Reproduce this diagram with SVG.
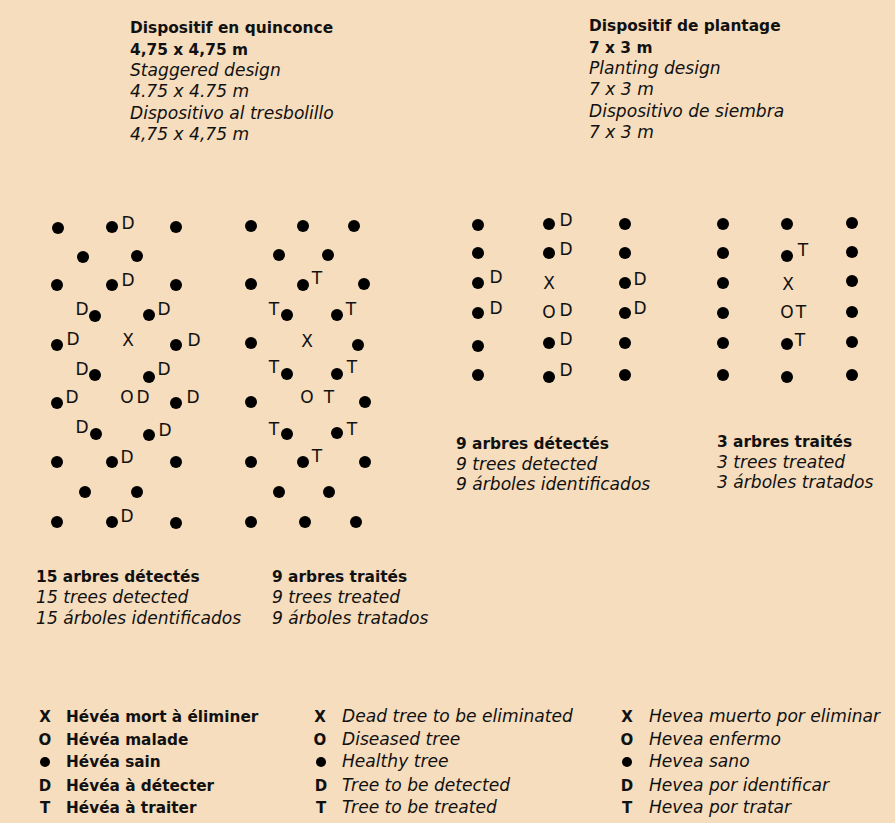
<svg xmlns="http://www.w3.org/2000/svg" width="895" height="823" viewBox="0 0 895 823">
<style>
text{font-family:"DejaVu Sans","Liberation Sans",sans-serif;fill:#111}
.b{font-weight:bold;font-size:15.4px}
.i{font-style:italic;font-size:17.1px}
.m{font-size:17px;text-anchor:middle}
.lb{font-weight:bold;font-size:15px;text-anchor:middle}
.lt{font-weight:bold;font-size:15.3px}
circle{fill:#000}
</style>
<rect width="895" height="823" fill="#F6DDBD"/>

<g id="header-left">
<text class="b" x="130" y="33">Dispositif en quinconce</text>
<text class="b" x="130" y="55">4,75 x 4,75 m</text>
<text class="i" x="130" y="76">Staggered design</text>
<text class="i" x="130" y="97">4.75 x 4.75 m</text>
<text class="i" x="130" y="119">Dispositivo al tresbolillo</text>
<text class="i" x="130" y="140">4,75 x 4,75 m</text>
</g>
<g id="header-right">
<text class="b" x="589" y="31">Dispositif de plantage</text>
<text class="b" x="589" y="53">7 x 3 m</text>
<text class="i" x="589" y="74">Planting design</text>
<text class="i" x="589" y="95">7 x 3 m</text>
<text class="i" x="589" y="117">Dispositivo de siembra</text>
<text class="i" x="589" y="138">7 x 3 m</text>
</g>

<g id="grid-quincunx-detected">
<circle cx="58" cy="228" r="6"/><circle cx="112" cy="227" r="6"/><circle cx="176" cy="227" r="6"/>
<circle cx="83" cy="257" r="6"/><circle cx="137" cy="256" r="6"/>
<circle cx="57" cy="285" r="6"/><circle cx="112" cy="285" r="6"/><circle cx="176" cy="285" r="6"/>
<circle cx="95" cy="316" r="6"/><circle cx="149" cy="315" r="6"/>
<circle cx="57" cy="345" r="6"/><circle cx="176" cy="345" r="6"/>
<circle cx="95" cy="375" r="6"/><circle cx="149" cy="377" r="6"/>
<circle cx="57" cy="403" r="6"/><circle cx="176" cy="403" r="6"/>
<circle cx="96" cy="434" r="6"/><circle cx="149" cy="435" r="6"/>
<circle cx="57" cy="462" r="6"/><circle cx="112" cy="462" r="6"/><circle cx="176" cy="462" r="6"/>
<circle cx="85" cy="492" r="6"/><circle cx="137" cy="492" r="6"/>
<circle cx="57" cy="522" r="6"/><circle cx="112" cy="522" r="6"/><circle cx="176" cy="523" r="6"/>
<text class="m" x="128" y="229">D</text>
<text class="m" x="128" y="286">D</text>
<text class="m" x="82" y="315">D</text>
<text class="m" x="164" y="315">D</text>
<text class="m" x="73" y="345">D</text>
<text class="m" x="128" y="346">X</text>
<text class="m" x="194" y="346">D</text>
<text class="m" x="82" y="375">D</text>
<text class="m" x="164" y="375">D</text>
<text class="m" x="72" y="403">D</text>
<text class="m" x="127" y="403">O</text>
<text class="m" x="143" y="403">D</text>
<text class="m" x="193" y="403">D</text>
<text class="m" x="82" y="433">D</text>
<text class="m" x="165" y="436">D</text>
<text class="m" x="127" y="463">D</text>
<text class="m" x="127" y="522">D</text>
</g>

<g id="grid-quincunx-treated">
<circle cx="251" cy="226" r="6"/><circle cx="303" cy="226" r="6"/><circle cx="354" cy="226" r="6"/>
<circle cx="279" cy="255" r="6"/><circle cx="328" cy="255" r="6"/>
<circle cx="251" cy="284" r="6"/><circle cx="303" cy="285" r="6"/><circle cx="364" cy="284" r="6"/>
<circle cx="287" cy="315" r="6"/><circle cx="337" cy="315" r="6"/>
<circle cx="251" cy="343" r="6"/><circle cx="358" cy="345" r="6"/>
<circle cx="287" cy="374" r="6"/><circle cx="337" cy="374" r="6"/>
<circle cx="251" cy="402" r="6"/><circle cx="365" cy="402" r="6"/>
<circle cx="287" cy="434" r="6"/><circle cx="337" cy="433" r="6"/>
<circle cx="251" cy="462" r="6"/><circle cx="303" cy="462" r="6"/><circle cx="365" cy="462" r="6"/>
<circle cx="279" cy="492" r="6"/><circle cx="329" cy="492" r="6"/>
<circle cx="251" cy="522" r="6"/><circle cx="305" cy="522" r="6"/><circle cx="356" cy="522" r="6"/>
<text class="m" x="317" y="284">T</text>
<text class="m" x="274" y="315">T</text>
<text class="m" x="351" y="315">T</text>
<text class="m" x="307" y="347">X</text>
<text class="m" x="274" y="373">T</text>
<text class="m" x="352" y="373">T</text>
<text class="m" x="307" y="403">O</text>
<text class="m" x="329" y="403">T</text>
<text class="m" x="274" y="435">T</text>
<text class="m" x="352" y="435">T</text>
<text class="m" x="317" y="462">T</text>
</g>

<g id="grid-planting-detected">
<circle cx="478" cy="225" r="6"/><circle cx="478" cy="253" r="6"/><circle cx="478" cy="283" r="6"/>
<circle cx="478" cy="313" r="6"/><circle cx="478" cy="346" r="6"/><circle cx="478" cy="375" r="6"/>
<circle cx="549" cy="224" r="6"/><circle cx="549" cy="253" r="6"/><circle cx="549" cy="343" r="6"/><circle cx="549" cy="377" r="6"/>
<circle cx="625" cy="224" r="6"/><circle cx="625" cy="253" r="6"/><circle cx="625" cy="283" r="6"/>
<circle cx="625" cy="313" r="6"/><circle cx="625" cy="343" r="6"/><circle cx="625" cy="375" r="6"/>
<text class="m" x="566" y="226">D</text>
<text class="m" x="566" y="255">D</text>
<text class="m" x="496" y="283">D</text>
<text class="m" x="549" y="289">X</text>
<text class="m" x="640" y="285">D</text>
<text class="m" x="496" y="314">D</text>
<text class="m" x="549" y="318">O</text>
<text class="m" x="566" y="316">D</text>
<text class="m" x="640" y="314">D</text>
<text class="m" x="566" y="345">D</text>
<text class="m" x="566" y="376">D</text>
</g>

<g id="grid-planting-treated">
<circle cx="723" cy="224" r="6"/><circle cx="723" cy="253" r="6"/><circle cx="723" cy="283" r="6"/>
<circle cx="723" cy="313" r="6"/><circle cx="723" cy="343" r="6"/><circle cx="723" cy="375" r="6"/>
<circle cx="787" cy="224" r="6"/><circle cx="787" cy="256" r="6"/><circle cx="787" cy="344" r="6"/><circle cx="787" cy="377" r="6"/>
<circle cx="852" cy="223" r="6"/><circle cx="852" cy="252" r="6"/><circle cx="852" cy="281" r="6"/>
<circle cx="852" cy="312" r="6"/><circle cx="852" cy="342" r="6"/><circle cx="852" cy="375" r="6"/>
<text class="m" x="803" y="256">T</text>
<text class="m" x="788" y="290">X</text>
<text class="m" x="787" y="318">O</text>
<text class="m" x="801" y="318">T</text>
<text class="m" x="800" y="346">T</text>
</g>

<g id="caption-1">
<text class="b" x="36" y="582">15 arbres détectés</text>
<text class="i" x="36" y="603">15 trees detected</text>
<text class="i" x="36" y="624">15 árboles identificados</text>
</g>
<g id="caption-2">
<text class="b" x="272" y="582">9 arbres traités</text>
<text class="i" x="272" y="603">9 trees treated</text>
<text class="i" x="272" y="624">9 árboles tratados</text>
</g>
<g id="caption-3">
<text class="b" x="456" y="449">9 arbres détectés</text>
<text class="i" x="456" y="470">9 trees detected</text>
<text class="i" x="456" y="490">9 árboles identificados</text>
</g>
<g id="caption-4">
<text class="b" x="717" y="447">3 arbres traités</text>
<text class="i" x="717" y="468">3 trees treated</text>
<text class="i" x="717" y="488">3 árboles tratados</text>
</g>

<g id="legend-fr">
<text class="lb" x="45" y="722">X</text><text class="lt" x="66" y="722">Hévéa mort à éliminer</text>
<text class="lb" x="45" y="745">O</text><text class="lt" x="66" y="745">Hévéa malade</text>
<circle cx="45" cy="762" r="5"/><text class="lt" x="66" y="767">Hévéa sain</text>
<text class="lb" x="45" y="791">D</text><text class="lt" x="66" y="791">Hévéa à détecter</text>
<text class="lb" x="45" y="813">T</text><text class="lt" x="66" y="813">Hévéa à traiter</text>
</g>
<g id="legend-en">
<text class="lb" x="320" y="722">X</text><text class="i" x="342" y="722">Dead tree to be eliminated</text>
<text class="lb" x="320" y="745">O</text><text class="i" x="342" y="745">Diseased tree</text>
<circle cx="321" cy="762" r="5"/><text class="i" x="342" y="767">Healthy tree</text>
<text class="lb" x="321" y="791">D</text><text class="i" x="342" y="791">Tree to be detected</text>
<text class="lb" x="321" y="813">T</text><text class="i" x="342" y="813">Tree to be treated</text>
</g>
<g id="legend-es">
<text class="lb" x="627" y="722">X</text><text class="i" x="649" y="722">Hevea muerto por eliminar</text>
<text class="lb" x="627" y="745">O</text><text class="i" x="649" y="745">Hevea enfermo</text>
<circle cx="627" cy="762" r="5"/><text class="i" x="649" y="767">Hevea sano</text>
<text class="lb" x="627" y="791">D</text><text class="i" x="649" y="791">Hevea por identificar</text>
<text class="lb" x="627" y="813">T</text><text class="i" x="649" y="813">Hevea por tratar</text>
</g>
</svg>
